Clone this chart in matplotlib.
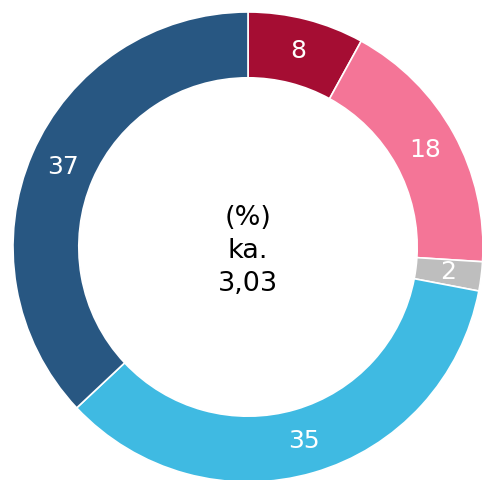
import matplotlib.pyplot as plt

# shares in percent, clockwise from the top
values = [8, 18, 2, 35, 37]
colors = ['#A50D33', '#F47597', '#BEBEBE', '#3FBAE2', '#285782']
center_text = '(%)\nka.\n3,03'

fig = plt.figure(figsize=(4.82, 4.80), dpi=100)
# axes sized so the ring sits where it does in the original (470 px wide)
ax = fig.add_axes([13 / 482, -2 / 480, 470 / 482, 470 / 480])

wedges, texts = ax.pie(
    values,
    labels=[str(v) for v in values],
    colors=colors,
    startangle=90,
    counterclock=False,
    radius=1.0,
    labeldistance=0.86,
    wedgeprops=dict(width=0.28, edgecolor='white', linewidth=1.2),
    textprops=dict(color='white', fontsize=18),
)
for t in texts:
    t.set_ha('center')
    t.set_va('center')

ax.text(0, -0.015, center_text, ha='center', va='center', fontsize=19.5,
        color='black', linespacing=1.35)

ax.set_xlim(-1, 1)
ax.set_ylim(-1, 1)
ax.axis('off')

fig.savefig('out.png', dpi=100)
